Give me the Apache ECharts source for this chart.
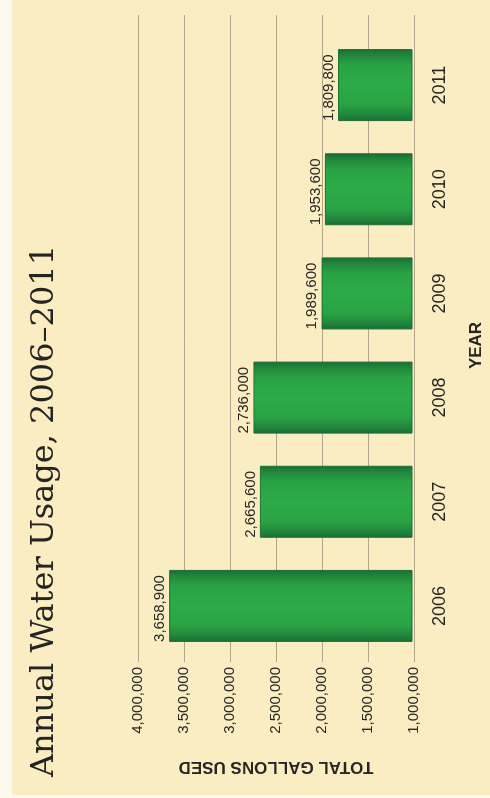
<!DOCTYPE html>
<html>
<head>
<meta charset="utf-8">
<script src="https://cdn.jsdelivr.net/npm/echarts@6/dist/echarts.min.js"></script>
<style>
  html, body { margin: 0; padding: 0; width: 490px; height: 798px; overflow: hidden; background: #fbedc2; }
  #chart {
    position: absolute; left: 0; top: 0;
    width: 798px; height: 490px;
    transform-origin: 0 0;
    transform: translateY(798px) rotate(-90deg);
  }
</style>
</head>
<body>
<div id="chart"></div>
<script>
const years = ['2006', '2007', '2008', '2009', '2010', '2011'];
const gallons = [3658900, 2665600, 2736000, 1989600, 1953600, 1809800];
const titleText = 'Annual Water Usage, 2006\u20132011';
const valueAxisName = 'TOTAL GALLONS USED';
const categoryAxisName = 'YEAR';
const valueMin = 1000000, valueMax = 4000000, valueStep = 500000;

const fmt = v => Number(v).toLocaleString('en-US');
const sans = 'Liberation Sans, Arial, sans-serif';

const barGradient = new echarts.graphic.LinearGradient(0, 0, 1, 0, [
  { offset: 0, color: '#1b6a34' },
  { offset: 0.07, color: '#20823b' },
  { offset: 0.22, color: '#29a244' },
  { offset: 0.5, color: '#2dab48' },
  { offset: 0.78, color: '#29a244' },
  { offset: 0.93, color: '#20823b' },
  { offset: 1, color: '#1b6a34' }
]);

const chart = echarts.init(document.getElementById('chart'), null, { renderer: 'canvas' });
chart.setOption({
  backgroundColor: '#fbedc2',
  animation: false,
  graphic: [
    { type: 'rect', left: 0, top: 0, shape: { width: 798, height: 12 }, style: { fill: '#fdf9ee' }, silent: true, z: -10 },
    { type: 'rect', left: 0, top: 0, shape: { width: 3, height: 490 }, style: { fill: '#fdf9ee' }, silent: true, z: -10 }
  ],
  title: {
    text: titleText,
    left: 16,
    top: 24,
    textStyle: { fontFamily: 'DejaVu Serif, serif', fontSize: 32, fontWeight: 'normal', color: '#242424' }
  },
  grid: [
    { left: 140, right: 33, top: 138, bottom: 76 },
    { left: 136, right: 15, top: 138, bottom: 76 }
  ],
  xAxis: [
    {
      type: 'category', gridIndex: 0, data: years,
      axisLine: { show: false }, axisTick: { show: false },
      axisLabel: { margin: 19, fontSize: 18, color: '#262626', fontFamily: sans },
      name: categoryAxisName, nameLocation: 'middle', nameGap: 56,
      nameTextStyle: { fontSize: 17, fontWeight: 'bold', color: '#262626', fontFamily: sans }
    },
    { type: 'value', gridIndex: 1, min: 0, max: 1, show: false }
  ],
  yAxis: [
    {
      type: 'value', gridIndex: 0, min: valueMin, max: valueMax, interval: valueStep,
      show: false, splitLine: { show: false }
    },
    {
      type: 'value', gridIndex: 1, min: valueMin, max: valueMax, interval: valueStep,
      axisLine: { show: false }, axisTick: { show: false },
      splitLine: { show: true, lineStyle: { color: '#b2a58a', width: 1 } },
      axisLabel: { margin: 5, fontSize: 15, color: '#262626', fontFamily: sans, formatter: fmt },
      name: valueAxisName, nameLocation: 'middle', nameGap: 96,
      nameTextStyle: { fontSize: 17, fontWeight: 'bold', color: '#262626', fontFamily: sans }
    }
  ],
  series: [
    {
      type: 'bar', xAxisIndex: 0, yAxisIndex: 0,
      data: gallons,
      barWidth: 72,
      itemStyle: { color: barGradient, borderColor: '#1c7036', borderWidth: 1 },
      label: {
        show: true, position: 'top', align: 'left', offset: [-36, 0], distance: 2,
        fontSize: 15, color: '#262626', fontFamily: sans,
        formatter: p => fmt(p.value)
      }
    }
  ]
});
</script>
</body>
</html>
